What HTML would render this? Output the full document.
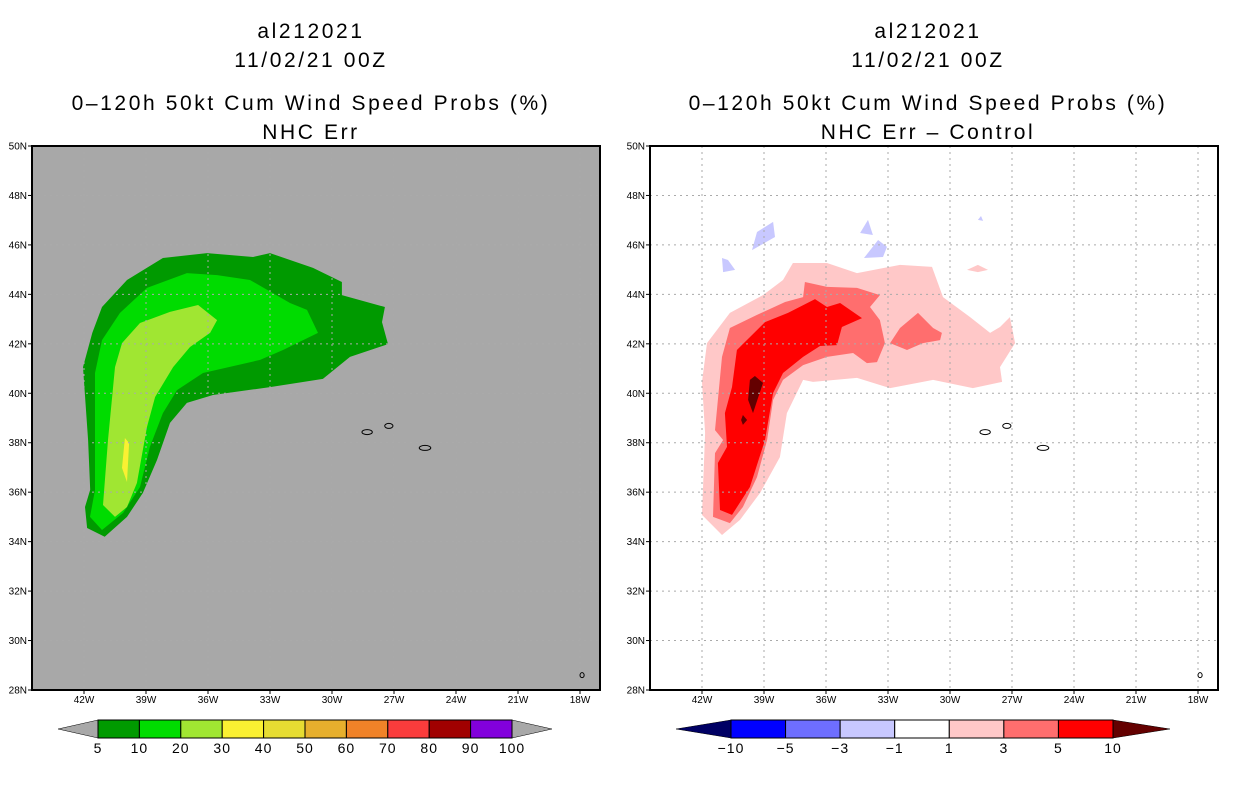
<!DOCTYPE html>
<html><head><meta charset="utf-8"><style>
html,body{margin:0;padding:0;background:#fff;width:1236px;height:800px;overflow:hidden;font-family:"Liberation Sans",sans-serif}
svg text{font-family:"Liberation Sans",sans-serif}
</style></head><body>
<svg id="c" width="1236" height="800" xmlns="http://www.w3.org/2000/svg"></svg>
<script>
// ---- data (lon in degrees W, lat in degrees N) ----
const latTicks=[50,48,46,44,42,40,38,36,34,32,30,28];
const lonTicks=[42,39,36,33,30,27,24,21,18];
const leftLevels=['5','10','20','30','40','50','60','70','80','90','100'];
const leftColors=['#009a00','#00dc00','#a0e632','#faf032','#e6dc32','#e6af2d','#f08228','#fa3c3c','#a00000','#8200dc'];
const rightLevels=['\u221210','\u22125','\u22123','\u22121','1','3','5','10'];
const rightColors=['#0000ff','#6e6eff','#c8c8ff','#ffffff','#ffc8c8','#ff6e6e','#ff0000'];
const p5=[[41.0,34.2],[41.85,34.55],[41.95,35.4],[41.7,36.1],[41.8,38.1],[42.05,41.06],[41.6,42.44],[41.13,43.49],[39.92,44.58],[38.18,45.47],[36.05,45.67],[33.82,45.51],[33.0,45.67],[30.92,45.07],[29.52,44.5],[29.52,43.97],[27.44,43.49],[27.58,42.88],[27.29,41.99],[29.13,41.47],[30.44,40.58],[33.0,40.25],[35.76,39.93],[37.02,39.61],[37.84,38.8],[38.47,37.3],[39.15,35.97],[39.92,35.0]];
const p10=[[41.13,34.47],[41.71,35.0],[41.47,36.09],[41.47,40.82],[41.13,42.15],[40.26,43.25],[38.95,44.26],[37.02,44.86],[35.56,44.78],[33.97,44.58],[32.03,43.65],[31.21,43.37],[30.68,42.44],[32.37,41.75],[33.48,41.35],[36.24,40.82],[37.5,40.13],[38.18,39.2],[38.81,37.83],[39.29,36.21],[40.11,35.16]];
const p20=[[40.5,35.0],[41.08,35.48],[40.84,38.11],[40.5,41.06],[40.16,42.03],[39.29,42.84],[37.84,43.29],[36.48,43.57],[35.56,42.96],[35.9,42.44],[36.87,41.87],[37.69,41.06],[38.56,39.85],[38.95,38.64],[39.44,36.37],[39.92,35.4]];
const p30=[[40.02,38.19],[39.82,37.99],[39.92,36.41],[40.16,36.98]];
const d1=[[41.03,34.27],[42.0,35.08],[41.85,38.39],[42.0,40.46],[41.76,42.03],[40.65,43.25],[39.05,43.97],[38.08,44.58],[37.6,45.27],[35.95,45.27],[34.5,44.86],[32.42,45.19],[30.87,45.11],[30.34,43.89],[29.03,43.08],[28.06,42.44],[27.58,42.68],[27.1,43.08],[26.85,42.03],[27.58,41.06],[27.48,40.46],[28.89,40.21],[30.82,40.54],[32.9,40.21],[34.5,40.62],[36.63,40.46],[37.11,40.54],[37.89,39.2],[38.23,37.42],[39.19,35.97],[40.16,34.88]];
const d1b=[[29.18,44.99],[28.65,45.19],[28.16,44.99],[28.65,44.9]];
const d3=[[40.65,34.75],[41.47,35.0],[41.37,37.58],[40.98,38.11],[41.37,38.51],[41.03,41.47],[40.65,42.64],[39.34,43.17],[37.98,43.69],[37.11,43.89],[37.02,44.5],[35.95,44.3],[34.5,44.26],[33.39,43.97],[33.87,43.49],[33.39,42.96],[33.15,42.03],[33.53,41.26],[34.02,41.22],[34.69,41.63],[35.95,41.47],[37.11,41.14],[38.08,40.54],[38.56,39.73],[38.85,38.11],[39.34,36.61],[40.02,35.4]];
const d3b=[[32.9,42.03],[32.42,42.64],[31.55,43.25],[30.82,42.64],[30.39,42.44],[30.48,42.15],[31.31,42.03],[32.08,41.75]];
const d5=[[40.55,35.08],[41.13,35.28],[41.23,37.18],[40.79,37.83],[40.89,39.2],[40.55,40.25],[40.31,41.75],[38.95,42.88],[37.84,43.25],[36.53,43.81],[35.95,43.49],[35.32,43.65],[34.26,43.04],[35.23,42.68],[35.47,41.95],[36.29,41.91],[37.11,41.47],[38.08,40.82],[38.56,40.01],[38.95,38.11],[39.68,36.21]];
const d10a=[[39.68,40.54],[39.44,40.7],[39.05,40.42],[39.53,39.2],[39.77,39.73]];
const d10b=[[40.02,39.12],[39.82,38.92],[40.02,38.72],[40.11,38.92]];
const n1=[[39.58,45.79],[39.34,46.52],[38.56,46.93],[38.47,46.32]];
const n2=[[41.03,45.47],[40.74,45.39],[40.4,44.99],[40.98,44.9]];
const n3=[[34.35,46.48],[33.97,47.01],[33.73,46.4]];
const n4=[[34.16,45.47],[33.48,46.2],[33.05,45.92],[33.24,45.51]];
const n5=[[28.65,47.01],[28.5,47.17],[28.4,46.97]];
const islands=[[28.3,38.43,0.25],[27.25,38.68,0.2],[25.5,37.79,0.28],[17.9,28.6,0.1]];

const NS='http://www.w3.org/2000/svg';
const svg=document.getElementById('c');
function mk(t,a,p){const e=document.createElementNS(NS,t);for(const k in a)e.setAttribute(k,a[k]);(p||svg).appendChild(e);return e;}
function panel(ox,name){
  const X=lon=>ox+84+(42-lon)*20.667;
  const Y=lat=>146+(50-lat)*24.727;
  const g=mk('g',{});
  
  
  return {g,X,Y};
}
function poly(P,pts,fill,name){
  const e=mk('polygon',{points:pts.map(q=>P.X(q[0]).toFixed(1)+','+P.Y(q[1]).toFixed(1)).join(' '),fill:fill},P.g);
  
  
}
function axes(P,ox){
  const x0=ox+32,x1=ox+600,y0=146,y1=690;
  const gg=mk('g',{stroke:'#aaaaaa','stroke-width':1,'stroke-dasharray':'2,4'},P.g);
  
  
  lonTicks.forEach(l=>mk('line',{x1:P.X(l),x2:P.X(l),y1:y0,y2:y1},gg));
  latTicks.slice(1,-1).forEach(l=>mk('line',{x1:x0,x2:x1,y1:P.Y(l),y2:P.Y(l)},gg));
  islands.forEach(s=>{const e=mk('ellipse',{cx:P.X(s[0]),cy:P.Y(s[1]),rx:s[2]*20.667,ry:2.5,fill:'none',stroke:'#000','stroke-width':1},P.g);
    
    });
  const fr=mk('rect',{x:x0,y:y0,width:x1-x0,height:y1-y0,fill:'none',stroke:'#000','stroke-width':2},P.g);
  
  
  latTicks.forEach(l=>{mk('line',{x1:x0-4,x2:x0,y1:P.Y(l),y2:P.Y(l),stroke:'#000'},P.g);
    const t=mk('text',{x:x0-5,y:P.Y(l)+3.5,'font-size':10,'text-anchor':'end'},P.g);t.textContent=l+'N';
    
    });
  lonTicks.forEach(l=>{mk('line',{x1:P.X(l),x2:P.X(l),y1:y1,y2:y1+4,stroke:'#000'},P.g);
    const t=mk('text',{x:P.X(l),y:y1+13,'font-size':10,'text-anchor':'middle'},P.g);t.textContent=l+'W';
    
    });
}
function titles(cx,lines){
  const ys=[38,67,110,139];
  lines.forEach((s,i)=>{const t=mk('text',{x:cx,y:ys[i],'font-size':21,'text-anchor':'middle','letter-spacing':'2.6px'});t.textContent=s;
    
    });
}
function colorbar(x0,x1,tl,tr,colors,labels,lc,rc,name){
  const g=mk('g',{});
  
  
  const y0=720,y1=738,w=(x1-x0)/colors.length;
  mk('polygon',{points:`${tl},729 ${x0},${y0} ${x0},${y1}`,fill:lc,stroke:'#000','stroke-width':0.5},g);
  mk('polygon',{points:`${tr},729 ${x1},${y0} ${x1},${y1}`,fill:rc,stroke:'#000','stroke-width':0.5},g);
  colors.forEach((c,i)=>{const r=mk('rect',{x:x0+i*w,y:y0,width:w,height:y1-y0,fill:c,stroke:'#000','stroke-width':1},g);
    
    });
  labels.forEach((s,i)=>{const t=mk('text',{x:x0+i*w,y:753,'font-size':14,'text-anchor':'middle','letter-spacing':'1px'},g);t.textContent=s;
    
    });
}
// left
const L=panel(0,'left-map');
mk('rect',{x:32,y:146,width:568,height:544,fill:'#a8a8a8'},L.g);
poly(L,p5,leftColors[0],'contour-5');
poly(L,p10,leftColors[1],'contour-10');
poly(L,p20,leftColors[2],'contour-20');
poly(L,p30,leftColors[3],'contour-30');
axes(L,0);
titles(311,['al212021','11/02/21 00Z','0\u2013120h 50kt Cum Wind Speed Probs (%)','NHC Err']);
colorbar(98,512,58,552,leftColors,leftLevels,'#a8a8a8','#a8a8a8','left-colorbar');
// right
const R=panel(618,'right-map');
mk('rect',{x:650,y:146,width:568,height:544,fill:'#fff'},R.g);
poly(R,d1,rightColors[4],'diff-1');
poly(R,d1b,rightColors[4],'diff-1-blob');
poly(R,d3,rightColors[5],'diff-3');
poly(R,d3b,rightColors[5],'diff-3-blob');
poly(R,d5,rightColors[6],'diff-5');
poly(R,d10a,'#640000','diff-10');
poly(R,d10b,'#640000','diff-10-small');
[n1,n2,n3,n4,n5].forEach(n=>poly(R,n,rightColors[2],'diff-neg-1'));
axes(R,618);
titles(928,['al212021','11/02/21 00Z','0\u2013120h 50kt Cum Wind Speed Probs (%)','NHC Err \u2013 Control']);
colorbar(731,1113,676,1170,rightColors,rightLevels,'#000064','#640000','right-colorbar');
</script>
</body></html>
